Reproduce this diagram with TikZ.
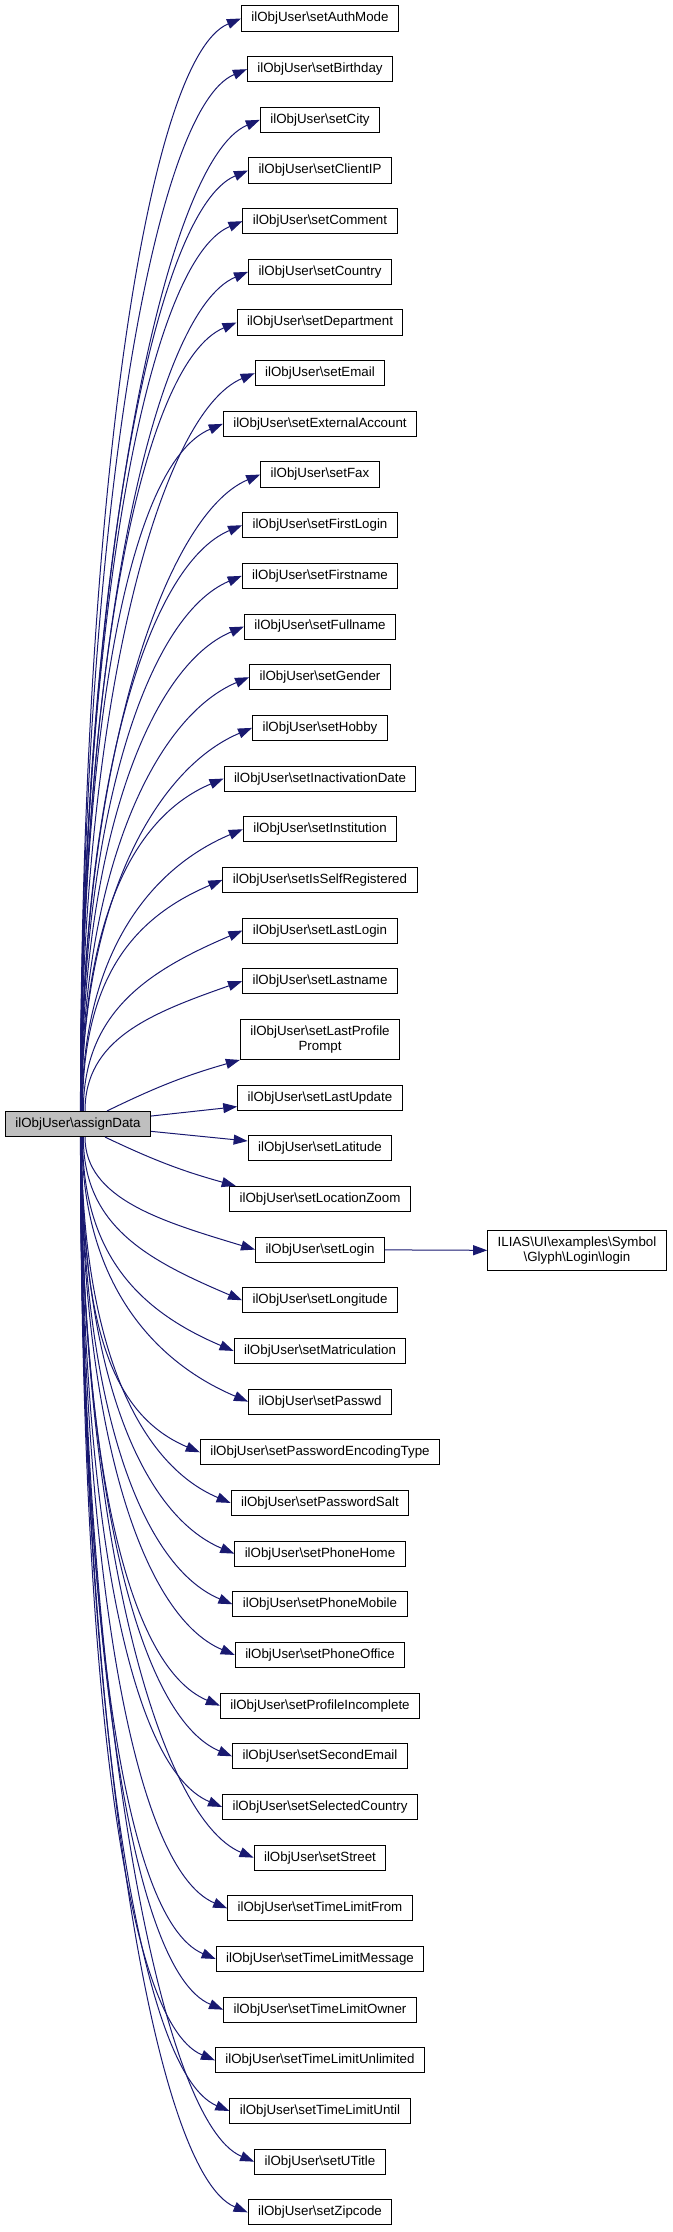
\documentclass[tikz,border=0pt]{standalone}
\usepackage{fontspec}
\setmainfont{Liberation Sans}
\usetikzlibrary{arrows.meta,calc}
\definecolor{edgeblue}{RGB}{25,25,112}
\definecolor{maingray}{RGB}{191,191,191}

\begin{document}
\begin{tikzpicture}[
  x=0.75pt, y=-0.75pt,
  fn/.style={rectangle, draw=black, line width=0.75pt, inner xsep=7.5pt, inner ysep=4.75pt,
    minimum height=18.75pt, align=center, font=\fontsize{10pt}{11.25pt}\selectfont},
  call/.style={draw=edgeblue, line width=0.75pt, -{Triangle[length=10.5pt,width=7.5pt]}}
]
\useasboundingbox (0,0) rectangle (673,2232);

\node[fn, fill=maingray] (main) at (78,1124) {ilObjUser\textbackslash assignData};

% callees, one row each
\foreach \name [count=\i from 0] in {AuthMode,Birthday,City,ClientIP,Comment,Country,
    Department,Email,ExternalAccount,Fax,FirstLogin,Firstname,Fullname,Gender,Hobby,
    InactivationDate,Institution,IsSelfRegistered,LastLogin,Lastname,LastProfile\\Prompt,
    LastUpdate,Latitude,LocationZoom,Login,Longitude,Matriculation,Passwd,
    PasswordEncodingType,PasswordSalt,PhoneHome,PhoneMobile,PhoneOffice,
    ProfileIncomplete,SecondEmail,SelectedCountry,Street,TimeLimitFrom,
    TimeLimitMessage,TimeLimitOwner,TimeLimitUnlimited,TimeLimitUntil,UTitle,Zipcode}{
  \pgfmathsetmacro\yy{18.5+50.67*\i+7.5*(\i>19)+7.5*(\i>20)}
  \node[fn] (n\i) at (320,\yy) {ilObjUser\textbackslash set\name};
}

\node[fn] (tgt) at (577,1250.7)
  {ILIAS\textbackslash UI\textbackslash examples\textbackslash Symbol\\
   \textbackslash Glyph\textbackslash Login\textbackslash login};

% edges out of assignData
\draw[call] (main) -- (n21);
\draw[call] (main) -- (n22);
\draw[call] ([xshift=21.75pt]main.north) to[bend left=5] (n20.south west);
\draw[call] ([xshift=20.25pt]main.south) to[bend right=5] ([xshift=5pt]n23.north west);
\foreach \i in {0,...,19,24,25,...,43}{
  \pgfmathsetmacro\yy{18.5+50.67*\i+7.5*(\i>19)+7.5*(\i>20)}
  \ifnum\i<21
    \pgfmathsetmacro\k{21-\i}\def\sgn{-1}\def\side{north}
  \else
    \pgfmathsetmacro\k{\i-22}\def\sgn{1}\def\side{south}
  \fi
  \pgfmathsetmacro\dsx{0.75*(2+10/\k)}
  \pgfmathsetmacro\sx{80+10/\k}
  \pgfmathsetmacro\dy{abs(\yy-1124)-13}
  \pgfmathsetmacro\ay{\sgn*0.55*\dy}
  \pgfmathsetmacro\bx{0.58*(245-\sx)}
  \pgfmathsetmacro\cy{-\sgn*min(40,0.25*\dy)}
  \draw[call] ([xshift=\dsx pt]main.\side) .. controls +(0,\ay)
    and ($(n\i.west)+(-\bx,\cy)$) .. (n\i.west);
}

\draw[call] (n24) -- (tgt);
\end{tikzpicture}
\end{document}
